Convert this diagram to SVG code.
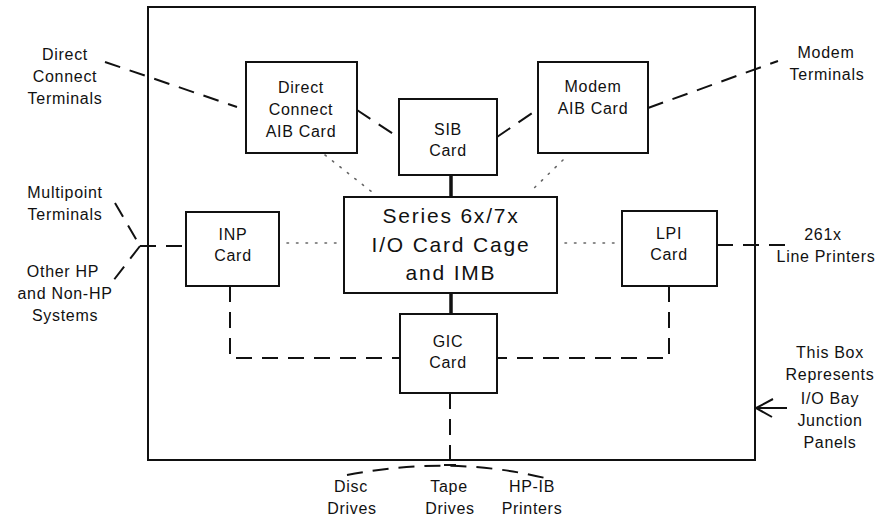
<svg xmlns="http://www.w3.org/2000/svg" width="880" height="518" viewBox="0 0 880 518">
<defs>
<style>
.box{fill:#fff;stroke:#111;stroke-width:2}
.t{font-family:"Liberation Sans",Arial,sans-serif;font-size:16px;letter-spacing:0.7px;fill:#111;text-anchor:middle}
.big{font-size:21px;letter-spacing:1.8px}
.solid{stroke:#111;stroke-width:3.5;fill:none}
.dash{stroke:#111;stroke-width:2;fill:none;stroke-dasharray:16 10}
.dot{stroke:#666;stroke-width:1.6;fill:none;stroke-dasharray:1.5 8;stroke-linecap:round}
.thin{stroke:#111;stroke-width:2;fill:none}
</style>
</defs>
<rect width="880" height="518" fill="#fff"/>
<g id="bay">
<rect x="148" y="7" width="607" height="453" fill="none" stroke="#111" stroke-width="2"/>
</g>
<g id="connectors">
<line class="solid" x1="451" y1="175" x2="451" y2="197"/>
<line class="solid" x1="451" y1="293" x2="451" y2="314"/>
<line class="dash" x1="105" y1="62" x2="237" y2="107"/>
<line class="dash" x1="357" y1="110" x2="398" y2="137" stroke-dasharray="14 12"/>
<line class="dash" x1="497" y1="137" x2="538" y2="109" stroke-dasharray="14 12"/>
<line class="dash" x1="648" y1="108" x2="778" y2="61"/>
<line class="dot" x1="325" y1="155" x2="372" y2="192"/>
<line class="dot" x1="563" y1="160" x2="530" y2="192"/>
<line class="dot" x1="287" y1="243" x2="340" y2="243"/>
<line class="dot" x1="565" y1="243" x2="618" y2="243"/>
<line class="dash" x1="115" y1="203" x2="140" y2="246" stroke-dasharray="16 10"/>
<line class="dash" x1="140" y1="246" x2="113" y2="281" stroke-dasharray="16 10"/>
<line class="dash" x1="140" y1="246" x2="186" y2="246" stroke-dasharray="17 12"/>
<line class="dash" x1="717" y1="245" x2="793" y2="245" stroke-dasharray="48 12"/>
<path class="dash" d="M230 286 V358 H400"/>
<path class="dash" d="M669 286 V358 H497"/>
<line class="dash" x1="450" y1="393" x2="450" y2="470"/>
<line class="thin" x1="444" y1="465" x2="456" y2="465"/>
<path class="dash" d="M347 475 Q450 455 545 478" stroke-dasharray="14 8"/>
<path class="thin" d="M787 408 H756 M773 399 L756 408 L772 417"/>
</g>
<g id="dc-terminals">
<text class="t" x="65" y="60">Direct</text>
<text class="t" x="65" y="82">Connect</text>
<text class="t" x="65" y="104">Terminals</text>
</g>
<g id="dc-aib">
<rect class="box" x="246" y="62" width="111" height="91"/>
<text class="t" x="301" y="93">Direct</text>
<text class="t" x="301" y="115">Connect</text>
<text class="t" x="301" y="137">AIB Card</text>
</g>
<g id="sib">
<rect class="box" x="399" y="99" width="98" height="76"/>
<text class="t" x="448" y="135">SIB</text>
<text class="t" x="448" y="156">Card</text>
</g>
<g id="modem-aib">
<rect class="box" x="538" y="62" width="110" height="91"/>
<text class="t" x="593" y="92">Modem</text>
<text class="t" x="593" y="114">AIB Card</text>
</g>
<g id="modem-terminals">
<text class="t" x="826" y="58">Modem</text>
<text class="t" x="827" y="80">Terminals</text>
</g>
<g id="cage">
<rect class="box" x="344" y="197" width="213" height="96"/>
<text class="t big" x="451" y="223">Series 6x/7x</text>
<text class="t big" x="451" y="252">I/O Card Cage</text>
<text class="t big" x="451" y="280">and IMB</text>
</g>
<g id="inp">
<rect class="box" x="186" y="212" width="93" height="74"/>
<text class="t" x="233" y="240">INP</text>
<text class="t" x="233" y="261">Card</text>
</g>
<g id="lpi">
<rect class="box" x="622" y="211" width="95" height="75"/>
<text class="t" x="669" y="239">LPI</text>
<text class="t" x="669" y="260">Card</text>
</g>
<g id="gic">
<rect class="box" x="400" y="314" width="97" height="79"/>
<text class="t" x="448" y="347">GIC</text>
<text class="t" x="448" y="368">Card</text>
</g>
<g id="multipoint">
<text class="t" x="65" y="198">Multipoint</text>
<text class="t" x="65" y="220">Terminals</text>
</g>
<g id="other-hp">
<text class="t" x="63" y="277">Other HP</text>
<text class="t" x="65" y="299">and Non-HP</text>
<text class="t" x="65" y="321">Systems</text>
</g>
<g id="line-printers">
<text class="t" x="823" y="240">261x</text>
<text class="t" x="826" y="262">Line Printers</text>
</g>
<g id="note">
<text class="t" x="830" y="358">This Box</text>
<text class="t" x="830" y="380">Represents</text>
<text class="t" x="830" y="404">I/O Bay</text>
<text class="t" x="830" y="426">Junction</text>
<text class="t" x="830" y="448">Panels</text>
</g>
<g id="disc">
<text class="t" x="351" y="492">Disc</text>
<text class="t" x="352" y="514">Drives</text>
</g>
<g id="tape">
<text class="t" x="449" y="492">Tape</text>
<text class="t" x="450" y="514">Drives</text>
</g>
<g id="hpib">
<text class="t" x="532" y="492">HP-IB</text>
<text class="t" x="532" y="514">Printers</text>
</g>
</svg>
